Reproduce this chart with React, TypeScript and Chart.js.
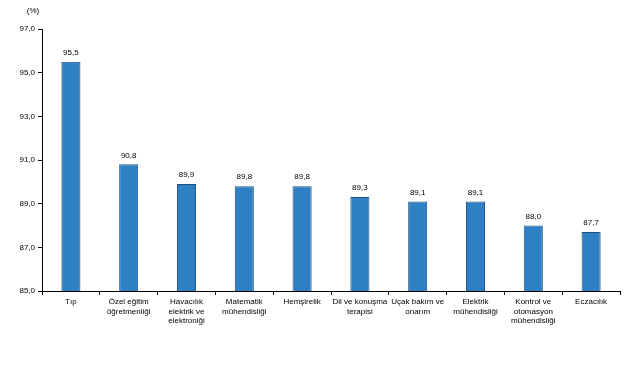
import React, { useEffect, useRef } from "react";
import { Chart, registerables } from "chart.js";

Chart.register(...registerables);

const categories: (string | string[])[] = [
  "Tıp",
  ["Özel eğitim", "öğretmenliği"],
  ["Havacılık", "elektrik ve", "elektroniği"],
  ["Matematik", "mühendisliği"],
  "Hemşirelik",
  ["Dil ve konuşma", "terapisi"],
  ["Uçak bakım ve", "onarım"],
  ["Elektrik", "mühendisliği"],
  ["Kontrol ve", "otomasyon", "mühendisliği"],
  "Eczacılık",
];

const rates = [95.5, 90.8, 89.9, 89.8, 89.8, 89.3, 89.1, 89.1, 88.0, 87.7];

const yMin = 85;
const yMax = 97;
const yStep = 2;
const unitLabel = "(%)";

const FONT = "'Liberation Sans', Arial, sans-serif";

const fmt = (v: number) => v.toFixed(1).replace(".", ",");

const valueLabels = {
  id: "valueLabels",
  afterDatasetsDraw(chart: any) {
    const ctx = chart.ctx;
    const meta = chart.getDatasetMeta(0);
    ctx.save();
    ctx.font = `8px ${FONT}`;
    ctx.fillStyle = "#000";
    ctx.textAlign = "center";
    ctx.textBaseline = "bottom";
    meta.data.forEach((bar: any, i: number) => {
      ctx.fillText(fmt(rates[i]), bar.x, bar.y - 5);
    });
    ctx.fillText(unitLabel, 33, 15);
    ctx.restore();
  },
};

export default function App() {
  const ref = useRef<HTMLCanvasElement>(null);

  useEffect(() => {
    if (!ref.current) return;
    const chart = new Chart(ref.current, {
      type: "bar",
      data: {
        labels: categories,
        datasets: [
          {
            data: rates,
            backgroundColor: "#2e7fc4",
            borderColor: "#1d4f7c",
            borderWidth: 1,
            categoryPercentage: 1,
            barPercentage: 0.33,
          },
        ],
      },
      options: {
        animation: false,
        responsive: false,
        maintainAspectRatio: false,
        layout: { padding: { left: 0, right: 21, top: 29, bottom: 0 } },
        plugins: {
          legend: { display: false },
          tooltip: { enabled: false },
        },
        scales: {
          x: {
            grid: {
              offset: true,
              drawOnChartArea: false,
              drawTicks: true,
              tickLength: 4,
              color: "#000",
            },
            border: { display: true, color: "#000", width: 1 },
            ticks: {
              color: "#000",
              font: { family: FONT, size: 8 },
              maxRotation: 0,
              autoSkip: false,
              padding: 2,
            },
            afterFit: (s: any) => {
              s.height = 89;
            },
          },
          y: {
            min: yMin,
            max: yMax,
            grid: {
              drawOnChartArea: false,
              drawTicks: true,
              tickLength: 4,
              color: "#000",
            },
            border: { display: true, color: "#000", width: 1 },
            ticks: {
              stepSize: yStep,
              color: "#000",
              font: { family: FONT, size: 8 },
              padding: 3,
              callback: (v: any) => fmt(Number(v)),
            },
            afterFit: (s: any) => {
              s.width = 42;
            },
          },
        },
      },
      plugins: [valueLabels],
    });
    return () => chart.destroy();
  }, []);

  return (
    <div
      style={{
        position: "fixed",
        left: 0,
        top: 0,
        width: 641,
        height: 380,
        background: "#fff",
      }}
    >
      <canvas ref={ref} width={641} height={380} />
    </div>
  );
}
